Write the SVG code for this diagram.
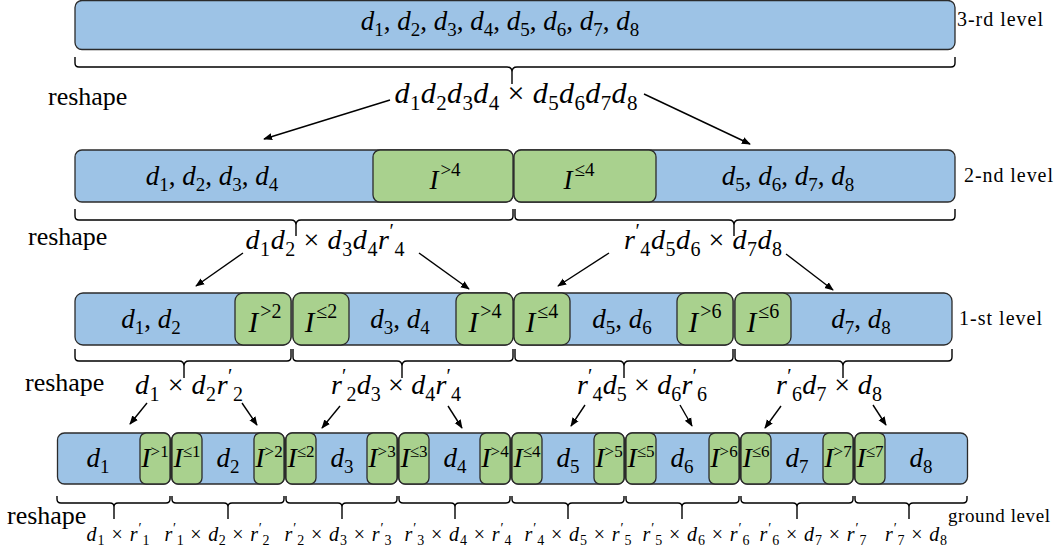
<svg xmlns="http://www.w3.org/2000/svg" width="1058" height="554" viewBox="0 0 1058 554">
<style>
.bl{fill:#9dc3e6;stroke:#2b2b2b;stroke-width:1.3}
.gr{fill:#a9d18e;stroke:#2b2b2b;stroke-width:1.3}
.t{font-family:"Liberation Serif","DejaVu Serif",serif;fill:#000}
.i{font-style:italic}
.br{fill:none;stroke:#000;stroke-width:1.4}
.ar{fill:none;stroke:#000;stroke-width:1.4;marker-end:url(#ah)}
</style>
<defs>
<marker id="ah" viewBox="0 0 10 10" refX="9" refY="5" markerWidth="9" markerHeight="9" orient="auto" markerUnits="userSpaceOnUse"><path d="M0,1 L10,5 L0,9 z" fill="#000"/></marker>
</defs>
<rect width="1058" height="554" fill="#fff"/>

<g id="level3">
<rect class="bl" x="75" y="0.5" width="880" height="49" rx="7"/>
<text class="t" x="500" y="30" font-size="27" text-anchor="middle"><tspan class="i">d</tspan><tspan font-size="19" dy="6">1</tspan><tspan dy="-6">, </tspan><tspan class="i">d</tspan><tspan font-size="19" dy="6">2</tspan><tspan dy="-6">, </tspan><tspan class="i">d</tspan><tspan font-size="19" dy="6">3</tspan><tspan dy="-6">, </tspan><tspan class="i">d</tspan><tspan font-size="19" dy="6">4</tspan><tspan dy="-6">, </tspan><tspan class="i">d</tspan><tspan font-size="19" dy="6">5</tspan><tspan dy="-6">, </tspan><tspan class="i">d</tspan><tspan font-size="19" dy="6">6</tspan><tspan dy="-6">, </tspan><tspan class="i">d</tspan><tspan font-size="19" dy="6">7</tspan><tspan dy="-6">, </tspan><tspan class="i">d</tspan><tspan font-size="19" dy="6">8</tspan></text>
</g>

<g id="level2-a">
<rect class="bl" x="75" y="150" width="438" height="52" rx="7"/>
<rect class="gr" x="373" y="150" width="140" height="52" rx="7"/>
<text class="t" x="212" y="185" font-size="27" text-anchor="middle"><tspan class="i">d</tspan><tspan font-size="19" dy="6">1</tspan><tspan dy="-6">, </tspan><tspan class="i">d</tspan><tspan font-size="19" dy="6">2</tspan><tspan dy="-6">, </tspan><tspan class="i">d</tspan><tspan font-size="19" dy="6">3</tspan><tspan dy="-6">, </tspan><tspan class="i">d</tspan><tspan font-size="19" dy="6">4</tspan></text>
<text class="t" x="445" y="189" font-size="27" text-anchor="middle"><tspan class="i">I</tspan><tspan font-size="19" dx="2" dy="-13">&gt;4</tspan></text>
</g>
<g id="level2-b">
<rect class="bl" x="514" y="150" width="441" height="52" rx="7"/>
<rect class="gr" x="514" y="150" width="142" height="52" rx="7"/>
<text class="t" x="579" y="189" font-size="27" text-anchor="middle"><tspan class="i">I</tspan><tspan font-size="19" dx="2" dy="-13">≤4</tspan></text>
<text class="t" x="788" y="185" font-size="27" text-anchor="middle"><tspan class="i">d</tspan><tspan font-size="19" dy="6">5</tspan><tspan dy="-6">, </tspan><tspan class="i">d</tspan><tspan font-size="19" dy="6">6</tspan><tspan dy="-6">, </tspan><tspan class="i">d</tspan><tspan font-size="19" dy="6">7</tspan><tspan dy="-6">, </tspan><tspan class="i">d</tspan><tspan font-size="19" dy="6">8</tspan></text>
</g>

<g id="level1-a">
<rect class="bl" x="75" y="293" width="216" height="52" rx="8"/>
<rect class="gr" x="235" y="293" width="56" height="52" rx="8"/>
<text class="t" x="151" y="328" font-size="27" text-anchor="middle"><tspan class="i">d</tspan><tspan font-size="19" dy="6">1</tspan><tspan dy="-6">, </tspan><tspan class="i">d</tspan><tspan font-size="19" dy="6">2</tspan></text>
<text class="t" x="265" y="332" font-size="29" text-anchor="middle"><tspan class="i">I</tspan><tspan font-size="20" dx="2" dy="-14">&gt;2</tspan></text>
</g>
<g id="level1-b">
<rect class="bl" x="293" y="293" width="220" height="52" rx="8"/>
<rect class="gr" x="293" y="293" width="56" height="52" rx="8"/>
<rect class="gr" x="456" y="293" width="57" height="52" rx="8"/>
<text class="t" x="321" y="332" font-size="29" text-anchor="middle"><tspan class="i">I</tspan><tspan font-size="20" dx="2" dy="-14">≤2</tspan></text>
<text class="t" x="400" y="328" font-size="27" text-anchor="middle"><tspan class="i">d</tspan><tspan font-size="19" dy="6">3</tspan><tspan dy="-6">, </tspan><tspan class="i">d</tspan><tspan font-size="19" dy="6">4</tspan></text>
<text class="t" x="485" y="332" font-size="29" text-anchor="middle"><tspan class="i">I</tspan><tspan font-size="20" dx="2" dy="-14">&gt;4</tspan></text>
</g>
<g id="level1-c">
<rect class="bl" x="514" y="293" width="219" height="52" rx="8"/>
<rect class="gr" x="514" y="293" width="56" height="52" rx="8"/>
<rect class="gr" x="677" y="293" width="56" height="52" rx="8"/>
<text class="t" x="542" y="332" font-size="29" text-anchor="middle"><tspan class="i">I</tspan><tspan font-size="20" dx="2" dy="-14">≤4</tspan></text>
<text class="t" x="622" y="328" font-size="27" text-anchor="middle"><tspan class="i">d</tspan><tspan font-size="19" dy="6">5</tspan><tspan dy="-6">, </tspan><tspan class="i">d</tspan><tspan font-size="19" dy="6">6</tspan></text>
<text class="t" x="705" y="332" font-size="29" text-anchor="middle"><tspan class="i">I</tspan><tspan font-size="20" dx="2" dy="-14">&gt;6</tspan></text>
</g>
<g id="level1-d">
<rect class="bl" x="735" y="293" width="217" height="52" rx="8"/>
<rect class="gr" x="735" y="293" width="56" height="52" rx="8"/>
<text class="t" x="763" y="332" font-size="29" text-anchor="middle"><tspan class="i">I</tspan><tspan font-size="20" dx="2" dy="-14">≤6</tspan></text>
<text class="t" x="861" y="328" font-size="27" text-anchor="middle"><tspan class="i">d</tspan><tspan font-size="19" dy="6">7</tspan><tspan dy="-6">, </tspan><tspan class="i">d</tspan><tspan font-size="19" dy="6">8</tspan></text>
</g>

<g id="ground-1">
<rect class="bl" x="57.5" y="433" width="113" height="51" rx="7"/>
<rect class="gr" x="140" y="433" width="30" height="51" rx="6"/>
<text class="t" x="98" y="467" font-size="27" text-anchor="middle"><tspan class="i">d</tspan><tspan font-size="19" dy="6">1</tspan></text>
<text class="t" x="155" y="467" font-size="28" text-anchor="middle"><tspan class="i">I</tspan><tspan font-size="17" dy="-10">&gt;1</tspan></text>
</g>
<g id="ground-2">
<rect class="bl" x="171.5" y="433" width="113" height="51" rx="7"/>
<rect class="gr" x="172" y="433" width="30" height="51" rx="6"/>
<rect class="gr" x="254" y="433" width="30" height="51" rx="6"/>
<text class="t" x="187" y="467" font-size="28" text-anchor="middle"><tspan class="i">I</tspan><tspan font-size="17" dy="-10">≤1</tspan></text>
<text class="t" x="228" y="467" font-size="27" text-anchor="middle"><tspan class="i">d</tspan><tspan font-size="19" dy="6">2</tspan></text>
<text class="t" x="269" y="467" font-size="28" text-anchor="middle"><tspan class="i">I</tspan><tspan font-size="17" dy="-10">&gt;2</tspan></text>
</g>
<g id="ground-3">
<rect class="bl" x="285.5" y="433" width="112" height="51" rx="7"/>
<rect class="gr" x="286" y="433" width="30" height="51" rx="6"/>
<rect class="gr" x="367" y="433" width="30" height="51" rx="6"/>
<text class="t" x="301" y="467" font-size="28" text-anchor="middle"><tspan class="i">I</tspan><tspan font-size="17" dy="-10">≤2</tspan></text>
<text class="t" x="342" y="467" font-size="27" text-anchor="middle"><tspan class="i">d</tspan><tspan font-size="19" dy="6">3</tspan></text>
<text class="t" x="382" y="467" font-size="28" text-anchor="middle"><tspan class="i">I</tspan><tspan font-size="17" dy="-10">&gt;3</tspan></text>
</g>
<g id="ground-4">
<rect class="bl" x="398.5" y="433" width="112" height="51" rx="7"/>
<rect class="gr" x="399" y="433" width="30" height="51" rx="6"/>
<rect class="gr" x="480" y="433" width="30" height="51" rx="6"/>
<text class="t" x="414" y="467" font-size="28" text-anchor="middle"><tspan class="i">I</tspan><tspan font-size="17" dy="-10">≤3</tspan></text>
<text class="t" x="455" y="467" font-size="27" text-anchor="middle"><tspan class="i">d</tspan><tspan font-size="19" dy="6">4</tspan></text>
<text class="t" x="495" y="467" font-size="28" text-anchor="middle"><tspan class="i">I</tspan><tspan font-size="17" dy="-10">&gt;4</tspan></text>
</g>
<g id="ground-5">
<rect class="bl" x="511.5" y="433" width="113" height="51" rx="7"/>
<rect class="gr" x="512" y="433" width="30" height="51" rx="6"/>
<rect class="gr" x="594" y="433" width="30" height="51" rx="6"/>
<text class="t" x="527" y="467" font-size="28" text-anchor="middle"><tspan class="i">I</tspan><tspan font-size="17" dy="-10">≤4</tspan></text>
<text class="t" x="568" y="467" font-size="27" text-anchor="middle"><tspan class="i">d</tspan><tspan font-size="19" dy="6">5</tspan></text>
<text class="t" x="609" y="467" font-size="28" text-anchor="middle"><tspan class="i">I</tspan><tspan font-size="17" dy="-10">&gt;5</tspan></text>
</g>
<g id="ground-6">
<rect class="bl" x="625.5" y="433" width="114" height="51" rx="7"/>
<rect class="gr" x="626" y="433" width="30" height="51" rx="6"/>
<rect class="gr" x="709" y="433" width="30" height="51" rx="6"/>
<text class="t" x="641" y="467" font-size="28" text-anchor="middle"><tspan class="i">I</tspan><tspan font-size="17" dy="-10">≤5</tspan></text>
<text class="t" x="682" y="467" font-size="27" text-anchor="middle"><tspan class="i">d</tspan><tspan font-size="19" dy="6">6</tspan></text>
<text class="t" x="724" y="467" font-size="28" text-anchor="middle"><tspan class="i">I</tspan><tspan font-size="17" dy="-10">&gt;6</tspan></text>
</g>
<g id="ground-7">
<rect class="bl" x="740.5" y="433" width="113" height="51" rx="7"/>
<rect class="gr" x="741" y="433" width="30" height="51" rx="6"/>
<rect class="gr" x="823" y="433" width="30" height="51" rx="6"/>
<text class="t" x="756" y="467" font-size="28" text-anchor="middle"><tspan class="i">I</tspan><tspan font-size="17" dy="-10">≤6</tspan></text>
<text class="t" x="797" y="467" font-size="27" text-anchor="middle"><tspan class="i">d</tspan><tspan font-size="19" dy="6">7</tspan></text>
<text class="t" x="838" y="467" font-size="28" text-anchor="middle"><tspan class="i">I</tspan><tspan font-size="17" dy="-10">&gt;7</tspan></text>
</g>
<g id="ground-8">
<rect class="bl" x="854.5" y="433" width="113" height="51" rx="7"/>
<rect class="gr" x="855" y="433" width="30" height="51" rx="6"/>
<text class="t" x="870" y="467" font-size="28" text-anchor="middle"><tspan class="i">I</tspan><tspan font-size="17" dy="-10">≤7</tspan></text>
<text class="t" x="921" y="467" font-size="27" text-anchor="middle"><tspan class="i">d</tspan><tspan font-size="19" dy="6">8</tspan></text>
</g>

<g id="connectors">
<path class="br" d="M75,57 V63 Q75,67 79,67 H507 Q512,67 512,72 V84 M512,72 Q512,67 517,67 H951 Q955,67 955,63 V57"/>
<path class="br" d="M75,209 V216 Q75,220 79,220 H291 Q296,220 296,225 V236 M296,225 Q296,220 301,220 H509 Q513,220 513,216 V209"/>
<path class="br" d="M515,209 V216 Q515,220 519,220 H729 Q734,220 734,225 V236 M734,225 Q734,220 739,220 H951 Q955,220 955,216 V209"/>
<path class="br" d="M75,349 V357 Q75,361 79,361 H179 Q184,361 184,366 V378 M184,366 Q184,361 189,361 H287 Q291,361 291,357 V349"/>
<path class="br" d="M293,349 V357 Q293,361 297,361 H397 Q402,361 402,366 V378 M402,366 Q402,361 407,361 H509 Q513,361 513,357 V349"/>
<path class="br" d="M515,349 V357 Q515,361 519,361 H619 Q624,361 624,366 V378 M624,366 Q624,361 629,361 H729 Q733,361 733,357 V349"/>
<path class="br" d="M735,349 V357 Q735,361 739,361 H838 Q843,361 843,366 V378 M843,366 Q843,361 848,361 H948 Q952,361 952,357 V349"/>
<path class="br" d="M57,496 V499 Q57,503 61,503 H110 Q114,503 114,507 V519 M114,507 Q114,503 118,503 H166 Q170,503 170,499 V496"/>
<path class="br" d="M172,496 V499 Q172,503 176,503 H224 Q228,503 228,507 V519 M228,507 Q228,503 232,503 H280 Q284,503 284,499 V496"/>
<path class="br" d="M286,496 V499 Q286,503 290,503 H338 Q342,503 342,507 V519 M342,507 Q342,503 346,503 H393 Q397,503 397,499 V496"/>
<path class="br" d="M399,496 V499 Q399,503 403,503 H451 Q455,503 455,507 V519 M455,507 Q455,503 459,503 H506 Q510,503 510,499 V496"/>
<path class="br" d="M512,496 V499 Q512,503 516,503 H564 Q568,503 568,507 V519 M568,507 Q568,503 572,503 H620 Q624,503 624,499 V496"/>
<path class="br" d="M626,496 V499 Q626,503 630,503 H678 Q682,503 682,507 V519 M682,507 Q682,503 686,503 H735 Q739,503 739,499 V496"/>
<path class="br" d="M741,496 V499 Q741,503 745,503 H793 Q797,503 797,507 V519 M797,507 Q797,503 801,503 H849 Q853,503 853,499 V496"/>
<path class="br" d="M855,496 V499 Q855,503 859,503 H905 Q909,503 909,507 V519 M909,507 Q909,503 913,503 H963 Q967,503 967,499 V496"/>
<line class="ar" x1="390" y1="100" x2="264" y2="139"/>
<line class="ar" x1="644" y1="94" x2="750" y2="144"/>
<line class="ar" x1="243" y1="253" x2="196" y2="286"/>
<line class="ar" x1="419" y1="253" x2="469" y2="289"/>
<line class="ar" x1="609" y1="253" x2="558" y2="286"/>
<line class="ar" x1="786" y1="254" x2="833" y2="290"/>
<line class="ar" x1="147" y1="403" x2="130" y2="424"/>
<line class="ar" x1="242" y1="403" x2="257" y2="425"/>
<line class="ar" x1="340" y1="406" x2="322" y2="428"/>
<line class="ar" x1="448" y1="406" x2="462" y2="428"/>
<line class="ar" x1="585" y1="405" x2="571" y2="426"/>
<line class="ar" x1="680" y1="405" x2="692" y2="426"/>
<line class="ar" x1="781" y1="406" x2="765" y2="428"/>
<line class="ar" x1="873" y1="405" x2="886" y2="425"/>
</g>

<g id="level-labels">
<text class="t" x="957" y="26" font-size="20" textLength="86">3-rd level</text>
<text class="t" x="964" y="182" font-size="20" textLength="89">2-nd level</text>
<text class="t" x="959" y="325" font-size="20" textLength="83">1-st level</text>
<text class="t" x="948" y="522" font-size="19" textLength="102">ground level</text>
</g>

<g id="reshape-labels">
<text class="t" x="48" y="105" font-size="26">reshape</text>
<text class="t" x="28" y="245" font-size="26">reshape</text>
<text class="t" x="25" y="391" font-size="26">reshape</text>
<text class="t" x="7" y="524" font-size="26">reshape</text>
</g>

<g id="formulas">
<text class="t" x="516" y="103" font-size="30" text-anchor="middle" textLength="243"><tspan class="i">d</tspan><tspan font-size="21" dy="7">1</tspan><tspan class="i" dy="-7">d</tspan><tspan font-size="21" dy="7">2</tspan><tspan class="i" dy="-7">d</tspan><tspan font-size="21" dy="7">3</tspan><tspan class="i" dy="-7">d</tspan><tspan font-size="21" dy="7">4</tspan><tspan dy="-7"> × </tspan><tspan class="i">d</tspan><tspan font-size="21" dy="7">5</tspan><tspan class="i" dy="-7">d</tspan><tspan font-size="21" dy="7">6</tspan><tspan class="i" dy="-7">d</tspan><tspan font-size="21" dy="7">7</tspan><tspan class="i" dy="-7">d</tspan><tspan font-size="21" dy="7">8</tspan></text>
<text class="t" x="325" y="249" font-size="28" text-anchor="middle" textLength="159"><tspan class="i">d</tspan><tspan font-size="20" dy="7">1</tspan><tspan class="i" dy="-7">d</tspan><tspan font-size="20" dy="7">2</tspan><tspan dy="-7"> × </tspan><tspan class="i">d</tspan><tspan font-size="20" dy="7">3</tspan><tspan class="i" dy="-7">d</tspan><tspan font-size="20" dy="7">4</tspan><tspan class="i" dy="-7">r</tspan><tspan font-size="20" dy="-11">′</tspan><tspan font-size="20" dy="18">4</tspan></text>
<text class="t" x="703" y="249" font-size="28" text-anchor="middle" textLength="158"><tspan class="i">r</tspan><tspan font-size="20" dy="-11">′</tspan><tspan font-size="20" dy="18">4</tspan><tspan class="i" dy="-7">d</tspan><tspan font-size="20" dy="7">5</tspan><tspan class="i" dy="-7">d</tspan><tspan font-size="20" dy="7">6</tspan><tspan dy="-7"> × </tspan><tspan class="i">d</tspan><tspan font-size="20" dy="7">7</tspan><tspan class="i" dy="-7">d</tspan><tspan font-size="20" dy="7">8</tspan></text>
<text class="t" x="189" y="394" font-size="28" text-anchor="middle" textLength="108"><tspan class="i">d</tspan><tspan font-size="20" dy="7">1</tspan><tspan dy="-7"> × </tspan><tspan class="i">d</tspan><tspan font-size="20" dy="7">2</tspan><tspan class="i" dy="-7">r</tspan><tspan font-size="20" dy="-11">′</tspan><tspan font-size="20" dy="18">2</tspan></text>
<text class="t" x="396" y="394" font-size="28" text-anchor="middle" textLength="130"><tspan class="i">r</tspan><tspan font-size="20" dy="-11">′</tspan><tspan font-size="20" dy="18">2</tspan><tspan class="i" dy="-7">d</tspan><tspan font-size="20" dy="7">3</tspan><tspan dy="-7"> × </tspan><tspan class="i">d</tspan><tspan font-size="20" dy="7">4</tspan><tspan class="i" dy="-7">r</tspan><tspan font-size="20" dy="-11">′</tspan><tspan font-size="20" dy="18">4</tspan></text>
<text class="t" x="642" y="394" font-size="28" text-anchor="middle" textLength="130"><tspan class="i">r</tspan><tspan font-size="20" dy="-11">′</tspan><tspan font-size="20" dy="18">4</tspan><tspan class="i" dy="-7">d</tspan><tspan font-size="20" dy="7">5</tspan><tspan dy="-7"> × </tspan><tspan class="i">d</tspan><tspan font-size="20" dy="7">6</tspan><tspan class="i" dy="-7">r</tspan><tspan font-size="20" dy="-11">′</tspan><tspan font-size="20" dy="18">6</tspan></text>
<text class="t" x="829" y="394" font-size="28" text-anchor="middle" textLength="106"><tspan class="i">r</tspan><tspan font-size="20" dy="-11">′</tspan><tspan font-size="20" dy="18">6</tspan><tspan class="i" dy="-7">d</tspan><tspan font-size="20" dy="7">7</tspan><tspan dy="-7"> × </tspan><tspan class="i">d</tspan><tspan font-size="20" dy="7">8</tspan></text>

<text class="t" x="118" y="541" font-size="20" text-anchor="middle" textLength="63"><tspan class="i">d</tspan><tspan font-size="14" dy="4">1</tspan><tspan dy="-4"> × </tspan><tspan class="i">r</tspan><tspan font-size="14" dy="-8">′</tspan><tspan font-size="14" dy="12">1</tspan></text>
<text class="t" x="217" y="541" font-size="20" text-anchor="middle" textLength="105"><tspan class="i">r</tspan><tspan font-size="14" dy="-8">′</tspan><tspan font-size="14" dy="12">1</tspan><tspan dy="-4"> × </tspan><tspan class="i">d</tspan><tspan font-size="14" dy="4">2</tspan><tspan dy="-4"> × </tspan><tspan class="i">r</tspan><tspan font-size="14" dy="-8">′</tspan><tspan font-size="14" dy="12">2</tspan></text>
<text class="t" x="338" y="541" font-size="20" text-anchor="middle" textLength="107"><tspan class="i">r</tspan><tspan font-size="14" dy="-8">′</tspan><tspan font-size="14" dy="12">2</tspan><tspan dy="-4"> × </tspan><tspan class="i">d</tspan><tspan font-size="14" dy="4">3</tspan><tspan dy="-4"> × </tspan><tspan class="i">r</tspan><tspan font-size="14" dy="-8">′</tspan><tspan font-size="14" dy="12">3</tspan></text>
<text class="t" x="458" y="541" font-size="20" text-anchor="middle" textLength="107"><tspan class="i">r</tspan><tspan font-size="14" dy="-8">′</tspan><tspan font-size="14" dy="12">3</tspan><tspan dy="-4"> × </tspan><tspan class="i">d</tspan><tspan font-size="14" dy="4">4</tspan><tspan dy="-4"> × </tspan><tspan class="i">r</tspan><tspan font-size="14" dy="-8">′</tspan><tspan font-size="14" dy="12">4</tspan></text>
<text class="t" x="578" y="541" font-size="20" text-anchor="middle" textLength="107"><tspan class="i">r</tspan><tspan font-size="14" dy="-8">′</tspan><tspan font-size="14" dy="12">4</tspan><tspan dy="-4"> × </tspan><tspan class="i">d</tspan><tspan font-size="14" dy="4">5</tspan><tspan dy="-4"> × </tspan><tspan class="i">r</tspan><tspan font-size="14" dy="-8">′</tspan><tspan font-size="14" dy="12">5</tspan></text>
<text class="t" x="696" y="541" font-size="20" text-anchor="middle" textLength="107"><tspan class="i">r</tspan><tspan font-size="14" dy="-8">′</tspan><tspan font-size="14" dy="12">5</tspan><tspan dy="-4"> × </tspan><tspan class="i">d</tspan><tspan font-size="14" dy="4">6</tspan><tspan dy="-4"> × </tspan><tspan class="i">r</tspan><tspan font-size="14" dy="-8">′</tspan><tspan font-size="14" dy="12">6</tspan></text>
<text class="t" x="813" y="541" font-size="20" text-anchor="middle" textLength="107"><tspan class="i">r</tspan><tspan font-size="14" dy="-8">′</tspan><tspan font-size="14" dy="12">6</tspan><tspan dy="-4"> × </tspan><tspan class="i">d</tspan><tspan font-size="14" dy="4">7</tspan><tspan dy="-4"> × </tspan><tspan class="i">r</tspan><tspan font-size="14" dy="-8">′</tspan><tspan font-size="14" dy="12">7</tspan></text>
<text class="t" x="916" y="541" font-size="20" text-anchor="middle" textLength="62"><tspan class="i">r</tspan><tspan font-size="14" dy="-8">′</tspan><tspan font-size="14" dy="12">7</tspan><tspan dy="-4"> × </tspan><tspan class="i">d</tspan><tspan font-size="14" dy="4">8</tspan></text>
</g>
</svg>
